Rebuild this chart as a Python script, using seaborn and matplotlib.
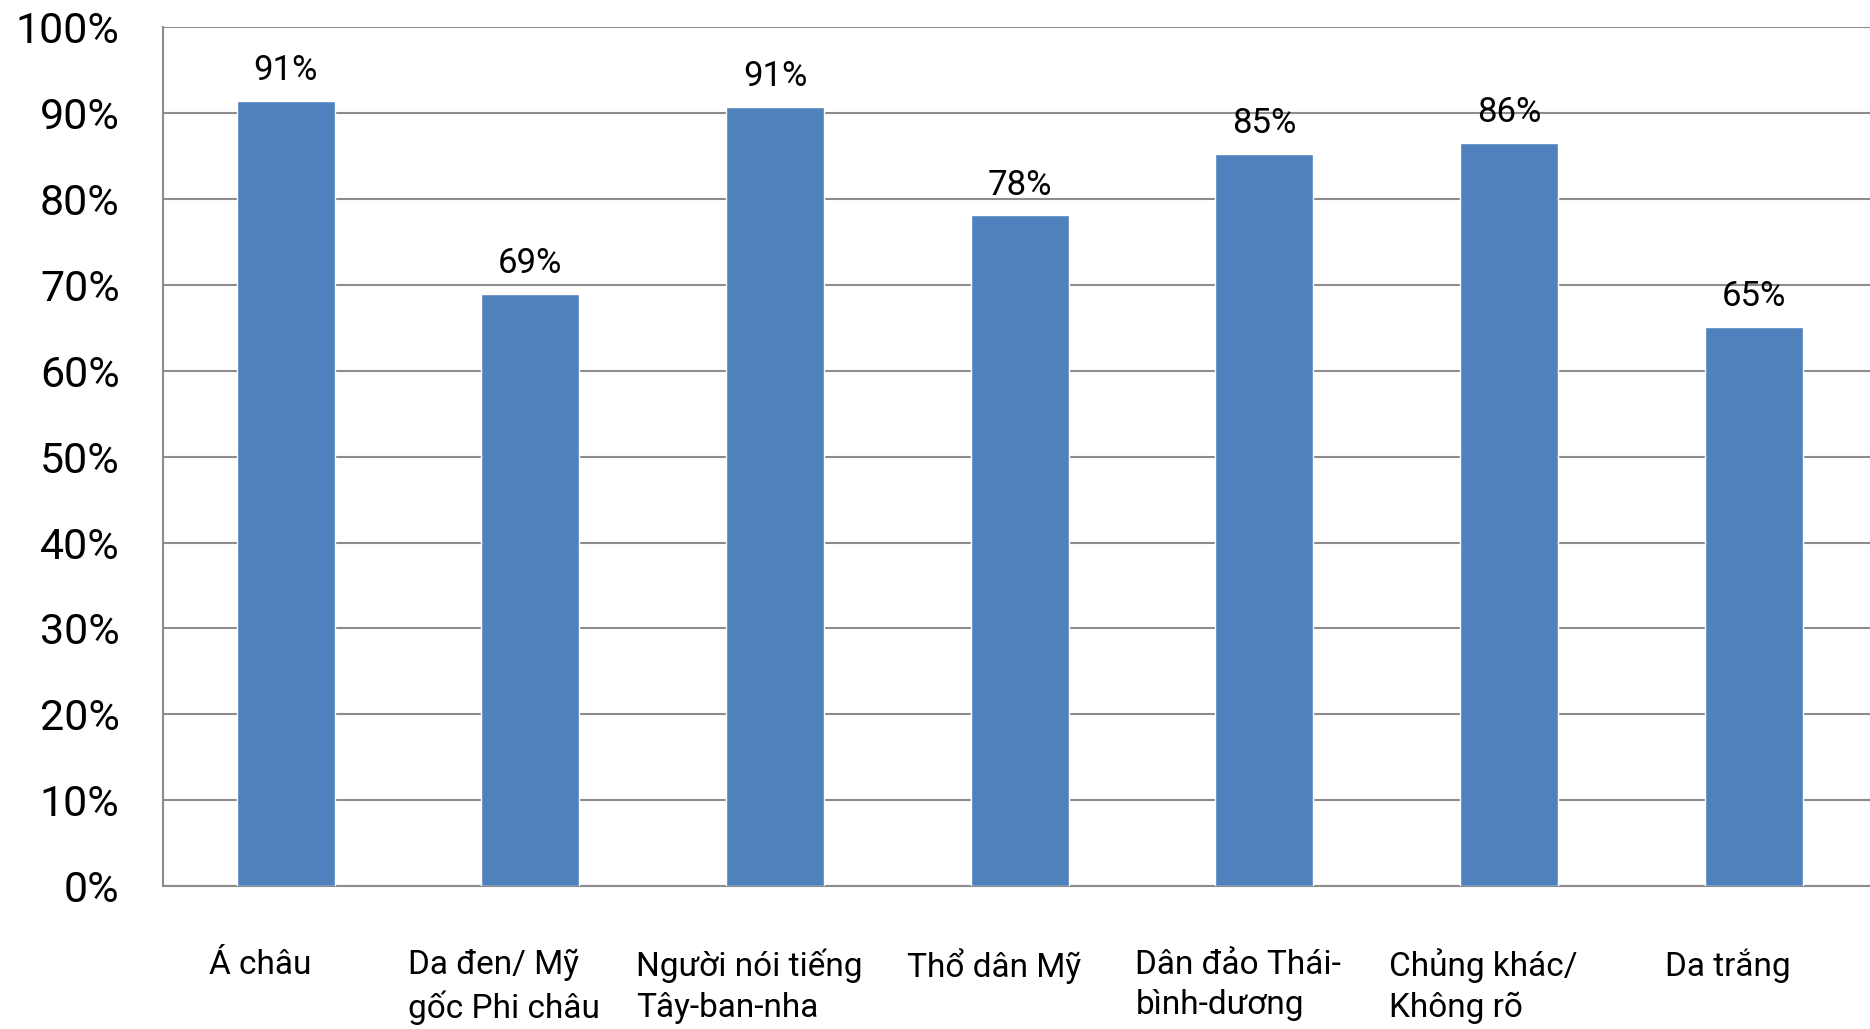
import pandas as pd
import numpy as np
from matplotlib import pyplot as plt
from matplotlib import transforms
from matplotlib.ticker import PercentFormatter
import seaborn as sns


categories = ['Á châu', 'Da đen/ Mỹ\ngốc Phi châu', 'Người nói tiếng\nTây-ban-nha',
              'Thổ dân Mỹ', 'Dân đảo Thái-\nbình-dương', 'Chủng khác/\nKhông rõ', 'Da trắng']
values = [0.914, 0.690, 0.907, 0.781, 0.853, 0.865, 0.651]
value_labels = ['91%', '69%', '91%', '78%', '85%', '86%', '65%']

BAR = '#4F81BD'
GRID = '#8C8C8C'

sns.set_style('white')
plt.rcParams['font.family'] = ['Roboto', 'DejaVu Sans']

data = pd.DataFrame({'group': categories, 'share': values})

fig = plt.figure(figsize=(18.7, 10.29), dpi=100)
ax = fig.add_axes([163.4 / 1870, 1 - 886 / 1029, (1876 - 163.4) / 1870, (886 - 27.4) / 1029])

sns.barplot(data=data, x='group', y='share', color=BAR, saturation=1, width=0.4, ax=ax, zorder=3)
ax.bar_label(ax.containers[0], labels=value_labels, padding=10, fontsize=25, color='black')

ax.set_xlim(-0.5, len(categories) - 0.5)
ax.set_ylim(0, 1)
ax.set_yticks(np.arange(0, 1.01, 0.1))
ax.yaxis.set_major_formatter(PercentFormatter(1.0, decimals=0))
ax.grid(axis='y', color=GRID, linewidth=1.5, zorder=0)
ax.set_axisbelow(True)

ax.set_xlabel('')
ax.set_ylabel('')
for side in ['top', 'right']:
    ax.spines[side].set_visible(False)
for side in ['left', 'bottom']:
    ax.spines[side].set_color(GRID)
    ax.spines[side].set_linewidth(1.5)

ax.tick_params(axis='y', length=9.5, width=1.5, color=GRID, pad=22, labelsize=31, labelcolor='black')
ax.tick_params(axis='x', which='major', length=0, pad=45, labelsize=24, labelcolor='black')
ax.set_xticks(np.arange(-0.5, len(categories), 1.0), minor=True)
ax.tick_params(axis='x', which='minor', length=10, width=1.5, color=GRID)

shift = transforms.ScaledTranslation(-0.26, 0, fig.dpi_scale_trans)
for lab in ax.get_xticklabels():
    lab.set_multialignment('left')
    lab.set_linespacing(1.35)
    lab.set_transform(lab.get_transform() + shift)

fig.savefig('out.png', dpi=100)
